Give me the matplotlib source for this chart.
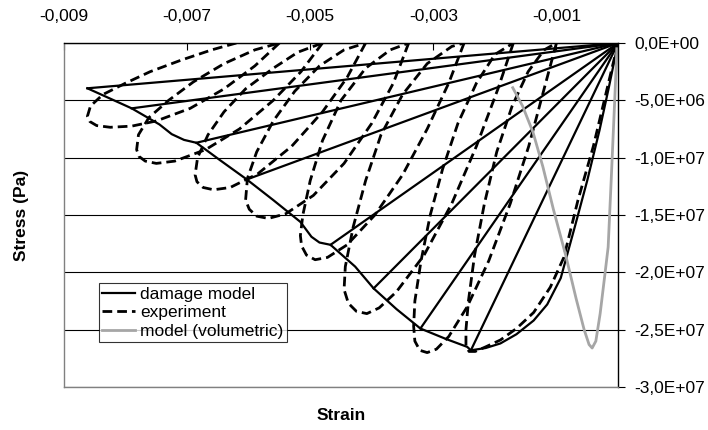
import matplotlib
matplotlib.use("Agg")
import matplotlib.pyplot as plt
from matplotlib.lines import Line2D

plt.rcParams['font.family'] = ['Liberation Sans', 'DejaVu Sans']
FS = 12.5

# ---------------- data (strain in 1e-3, stress in MPa) ----------------
x_ticks = [-0.009, -0.007, -0.005, -0.003, -0.001]
y_ticks = [0, -5e6, -1e7, -1.5e7, -2e7, -2.5e7, -3e7]

# damage model: pre-peak envelope
dm_pre_strain = [0, -0.15, -0.3, -0.5, -0.7, -0.93, -1.15, -1.37, -1.65, -1.91, -2.15, -2.39]
dm_pre_stress = [0, -3.9, -7.6, -12.0, -16.0, -20.5, -22.8, -24.2, -25.4, -26.2, -26.6, -26.8]
# damage model: softening envelope
dm_soft_strain = [-2.39, -2.45, -2.8, -3.21, -3.6, -3.97, -4.27, -4.67, -4.85, -4.98, -5.16, -5.6,
                  -6.03, -6.47, -6.85, -7.05, -7.25, -7.45, -7.90, -8.62]
dm_soft_stress = [-26.8, -26.5, -25.8, -24.9, -23.2, -21.4, -19.5, -17.6, -17.4, -16.9, -15.6, -13.7,
                  -11.9, -10.2, -8.7, -8.45, -7.95, -7.1, -5.7, -3.95]
# damage model: unloading points (secant unloading to origin)
dm_unl_strain = [-2.39, -3.21, -3.97, -4.67, -6.03, -6.85, -7.90, -8.62]
dm_unl_stress = [-26.8, -24.9, -21.4, -17.6, -11.9, -8.7, -5.7, -3.95]

# volumetric model
vol_strain = [-1.71, -1.55, -1.38, -1.22, -1.05, -0.85, -0.68, -0.55, -0.47, -0.42, -0.36,
              -0.29, -0.22, -0.16, -0.11, -0.07, -0.03, -0.02]
vol_stress = [-3.9, -5.5, -7.8, -10.8, -14.5, -18.5, -22.3, -25.0, -26.3, -26.6, -26.0,
              -23.6, -20.5, -17.8, -11.9, -7.0, -2.1, -0.5]

# experiment, cycle by cycle
exp_c1_strain = [0, -0.2, -0.4, -0.65, -0.88, -1.1, -1.37, -1.65, -1.91, -2.15, -2.32, -2.42, -2.47,
                 -2.47, -2.43, -2.33, -2.17, -1.97, -1.72, -1.46, -1.2, -1.0]
exp_c1_stress = [0, -4.5, -9.0, -13.7, -18.7, -21.3, -23.5, -24.9, -25.9, -26.5, -26.9, -26.9, -26.4,
                 -25.0, -22.5, -18.5, -14.0, -9.5, -5.5, -2.5, -0.6, 0]
exp_c2_strain = [-1.0, -1.2, -1.45, -1.75, -2.1, -2.45, -2.75, -2.95, -3.1, -3.22, -3.3, -3.32,
                 -3.3, -3.2, -3.05, -2.85, -2.6, -2.3, -2.0, -1.7]
exp_c2_stress = [0, -4, -9, -14, -19, -23, -25.6, -26.7, -27.0, -26.8, -26.0, -24.7,
                 -22.5, -19, -15, -11, -7, -3.5, -1.0, 0]
exp_c3_strain = [-1.7, -1.95, -2.3, -2.7, -3.15, -3.6, -3.88, -4.08, -4.25, -4.38, -4.45,
                 -4.43, -4.3, -4.1, -3.85, -3.5, -3.1, -2.7, -2.5]
exp_c3_stress = [0, -4, -9, -14, -18.5, -21.7, -23.1, -23.6, -23.4, -22.7, -21.5,
                 -19.5, -16, -12, -8, -4.5, -1.8, -0.3, 0]
exp_c4_strain = [-2.5, -2.75, -3.1, -3.5, -3.95, -4.4, -4.72, -4.92, -5.06, -5.14, -5.16,
                 -5.12, -5.0, -4.8, -4.5, -4.1, -3.7, -3.4]
exp_c4_stress = [0, -3.5, -7.5, -11.5, -15, -17.6, -18.7, -18.9, -18.5, -17.7, -16.8,
                 -15, -12, -8.5, -5, -2.2, -0.6, 0]
exp_c5_strain = [-3.4, -3.65, -4.0, -4.45, -4.95, -5.4, -5.68, -5.87, -5.99, -6.05,
                 -6.02, -5.87, -5.6, -5.25, -4.85, -4.45, -4.1]
exp_c5_stress = [0, -3.5, -7, -10.5, -13.3, -14.9, -15.3, -15.1, -14.5, -13.7,
                 -11.8, -9.5, -6.8, -4.2, -2.0, -0.6, 0]
exp_c6_strain = [-4.1, -4.4, -4.8, -5.3, -5.85, -6.3, -6.57, -6.74, -6.84, -6.87,
                 -6.83, -6.66, -6.4, -6.05, -5.6, -5.2, -4.8]
exp_c6_stress = [0, -3, -6, -9, -11.4, -12.6, -12.8, -12.6, -12.1, -11.5,
                 -10, -8, -6, -4, -2.2, -0.8, 0]
exp_c7_strain = [-4.8, -5.15, -5.6, -6.15, -6.7, -7.2, -7.5, -7.68, -7.78, -7.82,
                 -7.79, -7.62, -7.3, -6.9, -6.4, -5.9, -5.5]
exp_c7_stress = [0, -2.5, -5, -7.5, -9.3, -10.3, -10.5, -10.3, -9.9, -9.3,
                 -8.0, -6.5, -5, -3.4, -1.8, -0.6, 0]
exp_c8_strain = [-5.5, -5.9, -6.4, -6.95, -7.5, -7.9, -8.25, -8.47, -8.58, -8.62,
                 -8.57, -8.37, -8.0, -7.6, -7.1, -6.6, -6.2]
exp_c8_stress = [0, -2, -4, -5.7, -6.8, -7.25, -7.35, -7.2, -6.85, -6.4,
                 -5.5, -4.5, -3.5, -2.5, -1.5, -0.6, 0]

exp_cycles = [(exp_c1_strain, exp_c1_stress), (exp_c2_strain, exp_c2_stress),
              (exp_c3_strain, exp_c3_stress), (exp_c4_strain, exp_c4_stress),
              (exp_c5_strain, exp_c5_stress), (exp_c6_strain, exp_c6_stress),
              (exp_c7_strain, exp_c7_stress), (exp_c8_strain, exp_c8_stress)]

SX, SY = 1e-3, 1e6

# ---------------- figure ----------------
fig = plt.figure(figsize=(7.08, 4.30), dpi=100)
W, H = 708, 430
ax = fig.add_axes([64 / W, 1 - 387 / H, (618 - 64) / W, (387 - 43) / H])
ax.set_xlim(-0.009, 0)
ax.set_ylim(-3e7, 0)

ax.set_axisbelow(True)
ax.yaxis.grid(True, color='black', lw=0.8)

black = dict(color='black', lw=1.6, solid_joinstyle='round')
dash = dict(color='black', lw=2.0, dashes=(3.5, 1.8))

for sx, sy in exp_cycles:
    ax.plot([v * SX for v in sx], [v * SY for v in sy], **dash)

ax.plot([v * SX for v in dm_pre_strain], [v * SY for v in dm_pre_stress], **black)
ax.plot([v * SX for v in dm_soft_strain], [v * SY for v in dm_soft_stress], **black)
for ex, sy in zip(dm_unl_strain, dm_unl_stress):
    ax.plot([ex * SX, 0], [sy * SY, 0], **black)

ax.plot([v * SX for v in vol_strain], [v * SY for v in vol_stress], color='#a6a6a6', lw=2.0)

# axes styling
for s in ['left', 'bottom']:
    ax.spines[s].set_color('#808080')
    ax.spines[s].set_linewidth(1.0)
for s in ['top', 'right']:
    ax.spines[s].set_color('black')
    ax.spines[s].set_linewidth(1.0)

ax.xaxis.tick_top()
ax.yaxis.tick_right()
ax.set_xticks(x_ticks)
ax.set_xticklabels([f"{v:.3f}".replace('.', ',') for v in x_ticks], fontsize=FS)
ax.set_yticks(y_ticks)
ax.set_yticklabels([f"{v:.1E}".replace('.', ',') for v in y_ticks], fontsize=FS)
ax.tick_params(axis='x', direction='in', length=5, width=0.8, pad=14)
ax.tick_params(axis='y', direction='out', length=5, width=0.8, pad=7)

fig.text(22 / W, 1 - 215 / H, 'Stress (Pa)', rotation=90, ha='center', va='center',
         fontsize=FS, fontweight='bold')
fig.text(341 / W, 1 - 416 / H, 'Strain', ha='center', va='center',
         fontsize=FS, fontweight='bold')

handles = [Line2D([], [], **black),
           Line2D([], [], **dash),
           Line2D([], [], color='#a6a6a6', lw=2.0)]
leg = ax.legend(handles, ['damage model', 'experiment', 'model (volumetric)'],
                loc='upper left', bbox_to_anchor=((99 - 64) / 554, (387 - 283) / 344),
                fontsize=FS, frameon=True, fancybox=False, borderpad=0.2,
                labelspacing=0.2, handlelength=1.9, handletextpad=0.25, borderaxespad=0)
leg.get_frame().set_edgecolor('black')
leg.get_frame().set_linewidth(0.8)

fig.savefig('out.png', dpi=100)
